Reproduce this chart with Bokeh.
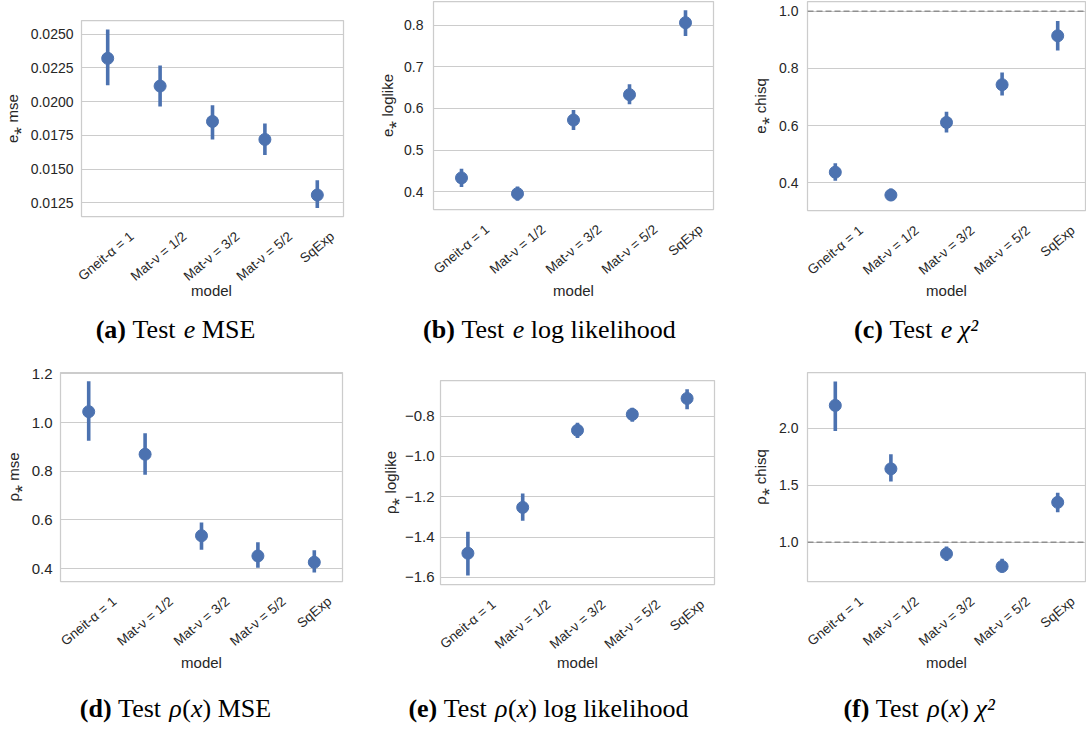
import math
from bokeh.plotting import figure
from bokeh.layouts import column, row
from bokeh.models import Range1d, FixedTicker, Span
from bokeh.core.properties import value
from bokeh.embed import file_html
from bokeh.resources import INLINE

# ---------------- data ----------------
MODELS = ["Gneit-α = 1", "Mat-ν = 1/2", "Mat-ν = 3/2", "Mat-ν = 5/2", "SqExp"]

# (a) test e MSE
E_MSE_MEAN = [0.02320, 0.02115, 0.01853, 0.01720, 0.01309]
E_MSE_LOW = [0.02121, 0.01963, 0.01720, 0.01605, 0.01213]
E_MSE_HIGH = [0.02533, 0.02267, 0.01973, 0.01838, 0.01419]
E_MSE_TICKS = [0.0125, 0.0150, 0.0175, 0.0200, 0.0225, 0.0250]
E_MSE_TICK_LABELS = ["0.0125", "0.0150", "0.0175", "0.0200", "0.0225", "0.0250"]

# (b) test e log likelihood
E_LL_MEAN = [0.433, 0.395, 0.572, 0.633, 0.806]
E_LL_LOW = [0.411, 0.378, 0.548, 0.610, 0.774]
E_LL_HIGH = [0.455, 0.412, 0.596, 0.658, 0.836]
E_LL_TICKS = [0.4, 0.5, 0.6, 0.7, 0.8]
E_LL_TICK_LABELS = ["0.4", "0.5", "0.6", "0.7", "0.8"]

# (c) test e chi-square
E_CHI_MEAN = [0.437, 0.357, 0.611, 0.743, 0.914]
E_CHI_LOW = [0.407, 0.336, 0.576, 0.705, 0.863]
E_CHI_HIGH = [0.468, 0.380, 0.648, 0.786, 0.966]
E_CHI_TICKS = [0.4, 0.6, 0.8, 1.0]
E_CHI_TICK_LABELS = ["0.4", "0.6", "0.8", "1.0"]

# (d) test rho MSE
R_MSE_MEAN = [1.045, 0.870, 0.535, 0.452, 0.426]
R_MSE_LOW = [0.925, 0.786, 0.478, 0.404, 0.384]
R_MSE_HIGH = [1.170, 0.956, 0.589, 0.508, 0.475]
R_MSE_TICKS = [0.4, 0.6, 0.8, 1.0, 1.2]
R_MSE_TICK_LABELS = ["0.4", "0.6", "0.8", "1.0", "1.2"]

# (e) test rho log likelihood
R_LL_MEAN = [-1.480, -1.253, -0.871, -0.792, -0.713]
R_LL_LOW = [-1.590, -1.319, -0.909, -0.828, -0.767]
R_LL_HIGH = [-1.373, -1.184, -0.833, -0.759, -0.667]
R_LL_TICKS = [-1.6, -1.4, -1.2, -1.0, -0.8]
R_LL_TICK_LABELS = ["\u22121.6", "\u22121.4", "\u22121.2", "\u22121.0", "\u22120.8"]

# (f) test rho chi-square
R_CHI_MEAN = [2.201, 1.644, 0.898, 0.787, 1.350]
R_CHI_LOW = [1.976, 1.534, 0.836, 0.734, 1.263]
R_CHI_HIGH = [2.411, 1.773, 0.962, 0.854, 1.434]
R_CHI_TICKS = [1.0, 1.5, 2.0]
R_CHI_TICK_LABELS = ["1.0", "1.5", "2.0"]

REFERENCE_LEVEL = 1.0

Y_LABELS = ["e\u204e mse", "e\u204e loglike", "e\u204e chisq",
            "\u03c1\u204e mse", "\u03c1\u204e loglike", "\u03c1\u204e chisq"]
X_LABEL = "model"

CAPTIONS = [
    [("(a)", "bold"), (" ", "normal"), ("Test", "normal"), (" ", "normal"), ("e", "italic"), (" ", "normal"), ("MSE", "normal")],
    [("(b)", "bold"), (" ", "normal"), ("Test", "normal"), (" ", "normal"), ("e", "italic"), (" ", "normal"), ("log", "normal"), (" ", "normal"), ("likelihood", "normal")],
    [("(c)", "bold"), (" ", "normal"), ("Test", "normal"), (" ", "normal"), ("e", "italic"), (" ", "normal"), ("\u03c7\u00b2", "italic")],
    [("(d)", "bold"), (" ", "normal"), ("Test", "normal"), (" ", "normal"), ("\u03c1", "italic"), ("(", "normal"), ("x", "italic"), (")", "normal"), (" ", "normal"), ("MSE", "normal")],
    [("(e)", "bold"), (" ", "normal"), ("Test", "normal"), (" ", "normal"), ("\u03c1", "italic"), ("(", "normal"), ("x", "italic"), (")", "normal"), (" ", "normal"), ("log", "normal"), (" ", "normal"), ("likelihood", "normal")],
    [("(f)", "bold"), (" ", "normal"), ("Test", "normal"), (" ", "normal"), ("\u03c1", "italic"), ("(", "normal"), ("x", "italic"), (")", "normal"), (" ", "normal"), ("\u03c7\u00b2", "italic")],
]

# ---------------- style ----------------
BLUE = "#4C72B0"
GRID = "#cccccc"
TXT = "#262626"
SANS = "Liberation Sans"
SERIF = "Liberation Serif"
ROT = math.radians(40)

SANS_W = {'G': 778, 'n': 556, 'e': 556, 'i': 222, 't': 278, '-': 333, 'α': 578, ' ': 278,
          '=': 584, '1': 556, 'M': 833, 'a': 556, 'ν': 500, '/': 278, '2': 556, '3': 556,
          '5': 556, 'S': 667, 'q': 556, 'E': 667, 'x': 500, 'p': 556}
SERIF_W = {
    "normal": {'(': 333, ')': 333, 'T': 611, 'e': 444, 's': 389, 't': 278, 'M': 889, 'S': 556,
               'E': 611, 'l': 278, 'o': 500, 'g': 500, 'i': 278, 'k': 500, 'h': 500, 'd': 500,
               ' ': 250, 'x': 500},
    "bold": {'(': 333, ')': 333, 'a': 500, 'b': 556, 'c': 444, 'd': 556, 'e': 444, 'f': 333},
    "italic": {'e': 444, 'x': 444, 'ρ': 500, 'χ': 550, '²': 300},
}


def sans_width(s, fs):
    return sum(SANS_W.get(ch, 556) for ch in s) * fs / 1000.0


def serif_width(s, style, fs):
    table = SERIF_W[style]
    return sum(table.get(ch, 500) for ch in s) * fs / 1000.0


def panel(geom, mean, low, high, yrange, ticks, tick_labels, ylabel, ref_line=False):
    (w, h, bl, br, bt, tick_fs, standoff, als) = geom
    p = figure(width=w, height=h, x_range=MODELS, y_range=Range1d(*yrange),
               output_backend="svg", toolbar_location=None, x_axis_location=None,
               min_border_left=bl, min_border_right=br, min_border_top=bt, min_border_bottom=2)
    p.background_fill_color = "white"
    p.border_fill_color = "white"
    p.outline_line_color = GRID
    p.outline_line_width = 1.25
    p.xgrid.visible = False
    p.ygrid.grid_line_color = GRID
    p.ygrid.grid_line_width = 1
    ax = p.yaxis[0]
    ax.ticker = FixedTicker(ticks=ticks)
    ax.major_label_overrides = {t: l for t, l in zip(ticks, tick_labels)}
    ax.axis_line_color = None
    ax.major_tick_line_color = None
    ax.minor_tick_line_color = None
    ax.major_tick_out = 0
    ax.major_tick_in = 0
    ax.major_label_standoff = standoff
    ax.major_label_text_font = SANS
    ax.major_label_text_font_size = f"{tick_fs}px"
    ax.major_label_text_color = TXT
    ax.axis_label = ylabel
    ax.axis_label_standoff = als
    ax.axis_label_text_font = SANS
    ax.axis_label_text_font_size = "15px"
    ax.axis_label_text_font_style = "normal"
    ax.axis_label_text_color = TXT

    if ref_line:
        p.add_layout(Span(location=REFERENCE_LEVEL, dimension="width", line_color="#8f8f8f",
                          line_width=1.5, line_dash="6 3"))

    p.segment(x0=MODELS, y0=low, x1=MODELS, y1=high, line_color=BLUE, line_width=3.6)
    p.scatter(x=MODELS, y=mean, size=12, fill_color=BLUE, line_color=BLUE)
    return p


def strip(geom, h, model_y, cap_mid_y, cap_cx, pieces, xfs=13.5, pad=10, cfs=26):
    """Area under a panel: rotated category labels, the x-axis title and the caption.
    Its x scale is the panel's categorical scale (factor i centred at i + 0.5),
    extended over the panel's side borders; y is pixels below the top."""
    (w, _, bl, br, _, _, _, _) = geom
    n = len(MODELS)
    wf = w - bl - br
    x0, x1 = -bl * n / wf, n + br * n / wf
    per_px = (x1 - x0) / w
    p = figure(width=w, height=h, x_range=Range1d(x0, x1), y_range=Range1d(-h, 0),
               output_backend="svg", toolbar_location=None, min_border=0,
               x_axis_location=None, y_axis_location=None)
    p.grid.visible = False
    p.outline_line_color = None
    p.background_fill_color = "white"
    p.border_fill_color = "white"

    hbox = xfs * 1.15
    xs = [i + 0.5 for i in range(n)]
    ys = [-(pad + (sans_width(m, xfs) * math.sin(ROT) + hbox * math.cos(ROT)) / 2) for m in MODELS]
    p.text(x=xs, y=ys, text=MODELS, angle=ROT,
           text_align="center", text_baseline="middle", text_font=value(SANS),
           text_font_size=value(f"{xfs}px"), text_color=TXT)
    p.text(x=[n / 2], y=[-model_y], text=[X_LABEL], text_align="center", text_baseline="middle",
           text_font=value(SANS), text_font_size=value("15px"), text_color=TXT)

    total = sum(serif_width(t, s, cfs) for t, s in pieces)
    px = cap_cx - total / 2
    for t, s in pieces:
        adv = serif_width(t, s, cfs)
        if t.strip():
            p.text(x=[x0 + px * per_px], y=[-cap_mid_y], text=[t], text_font=value(SERIF),
                   text_font_style=s, text_font_size=value(f"{cfs}px"), text_align="left",
                   text_baseline="middle", text_color="black")
        px += adv
    return p


def solo(item):
    # a one-child column keeps Bokeh from aligning the frames of neighbouring plots
    return column(item)


# geometry: width, height, border l/r/t, tick font, label standoff, axis-label standoff
G = [
    (370, 218, 79, 27, 20, 14, 8, 7),
    (370, 211, 63, 27, 1, 14, 10, 5),
    (346, 212, 67, 1, 1, 14, 9, 7),
    (370, 237, 60, 28, 26, 15, 8, 7),
    (370, 240, 70, 26, 34, 15, 6, 3),
    (346, 237, 67, 1, 26, 14, 9, 7),
]

pa = panel(G[0], E_MSE_MEAN, E_MSE_LOW, E_MSE_HIGH, (0.0115, 0.0260), E_MSE_TICKS, E_MSE_TICK_LABELS, Y_LABELS[0])
pb = panel(G[1], E_LL_MEAN, E_LL_LOW, E_LL_HIGH, (0.357, 0.857), E_LL_TICKS, E_LL_TICK_LABELS, Y_LABELS[1])
pc = panel(G[2], E_CHI_MEAN, E_CHI_LOW, E_CHI_HIGH, (0.303, 1.034), E_CHI_TICKS, E_CHI_TICK_LABELS, Y_LABELS[2], ref_line=True)
pd = panel(G[3], R_MSE_MEAN, R_MSE_LOW, R_MSE_HIGH, (0.347, 1.206), R_MSE_TICKS, R_MSE_TICK_LABELS, Y_LABELS[3])
pe = panel(G[4], R_LL_MEAN, R_LL_LOW, R_LL_HIGH, (-1.635, -0.624), R_LL_TICKS, R_LL_TICK_LABELS, Y_LABELS[4])
pf = panel(G[5], R_CHI_MEAN, R_CHI_LOW, R_CHI_HIGH, (0.655, 2.490), R_CHI_TICKS, R_CHI_TICK_LABELS, Y_LABELS[5], ref_line=True)

sa = strip(G[0], 128, 72, 111, 175, CAPTIONS[0])
sb = strip(G[1], 135, 79, 118, 179, CAPTIONS[1])
sc = strip(G[2], 134, 78, 117, 177, CAPTIONS[2])
sd = strip(G[3], 147, 79, 125, 175, CAPTIONS[3])
se = strip(G[4], 144, 76, 122, 178, CAPTIONS[4])
sf = strip(G[5], 147, 79, 125, 180, CAPTIONS[5])

layout = column(
    row(column(solo(pa), solo(sa)), column(solo(pb), solo(sb)), column(solo(pc), solo(sc))),
    row(column(solo(pd), solo(sd)), column(solo(pe), solo(se)), column(solo(pf), solo(sf))),
)

with open("out.html", "w") as f:
    f.write(file_html(layout, INLINE))
